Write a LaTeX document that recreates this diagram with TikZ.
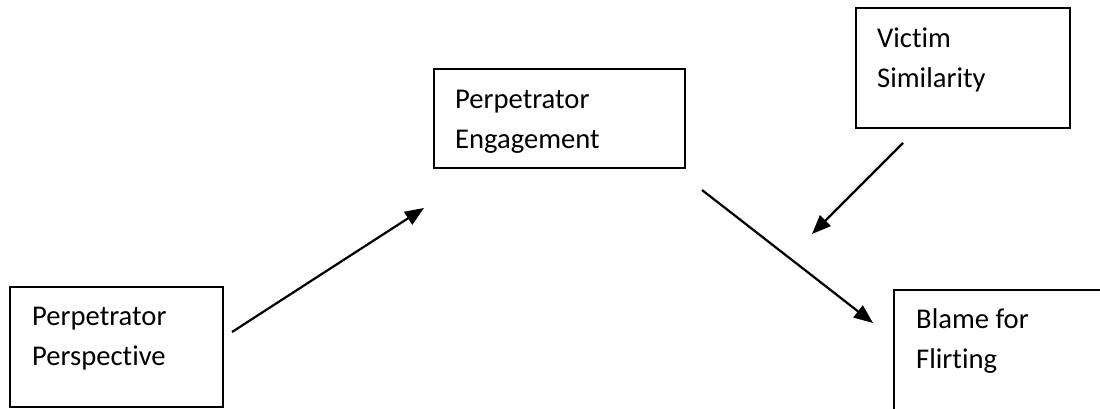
\documentclass[tikz,border=0pt]{standalone}
\usepackage{fontspec}
\setmainfont{Carlito}[Ligatures=NoCommon]
\usetikzlibrary{arrows.meta}
\begin{document}
\begin{tikzpicture}[x=1pt,y=-1pt,
  box/.style={draw, line width=1.8pt, inner sep=0pt, outer sep=0pt, anchor=north west},
  lbl/.style={anchor=base west, align=left, inner sep=0pt,
    font=\fontsize{28.6}{40}\selectfont},
  link/.style={line width=2.2pt, -{Triangle[length=19pt,width=15pt]}}]
  \useasboundingbox (0,0) rectangle (1100,408);

  % the four variables
  \node[box, minimum width=213pt, minimum height=120pt] (persp) at (10,287) {};
  \node[box, minimum width=251pt, minimum height=99pt]  (engage) at (434,69) {};
  \node[box, minimum width=214pt, minimum height=120pt] (victim) at (856,8) {};
  \node[box, minimum width=230pt, minimum height=140pt] (blame) at (894,290) {};

  % labels (anchored on the baseline of their last line)
  \node[lbl] (perspText)  at (32,365)  {Perpetrator\\Perspective};
  \node[lbl] (engageText) at (455,148) {Perpetrator\\Engagement};
  \node[lbl] (victimText) at (877,87)  {Victim\\Similarity};
  \node[lbl] (blameText)  at (916,368) {Blame for\\Flirting};

  % free ends of the paths
  \coordinate (a1) at (232,332);
  \coordinate (a2) at (424,208);
  \coordinate (b1) at (702,190);
  \coordinate (b2) at (873,323);
  \coordinate (c1) at (903,143);
  \coordinate (c2) at (812,234);

  \draw[link] (a1) -- (a2);
  \draw[link] (b1) -- (b2);
  \draw[link] (c1) -- (c2);
\end{tikzpicture}
\end{document}
